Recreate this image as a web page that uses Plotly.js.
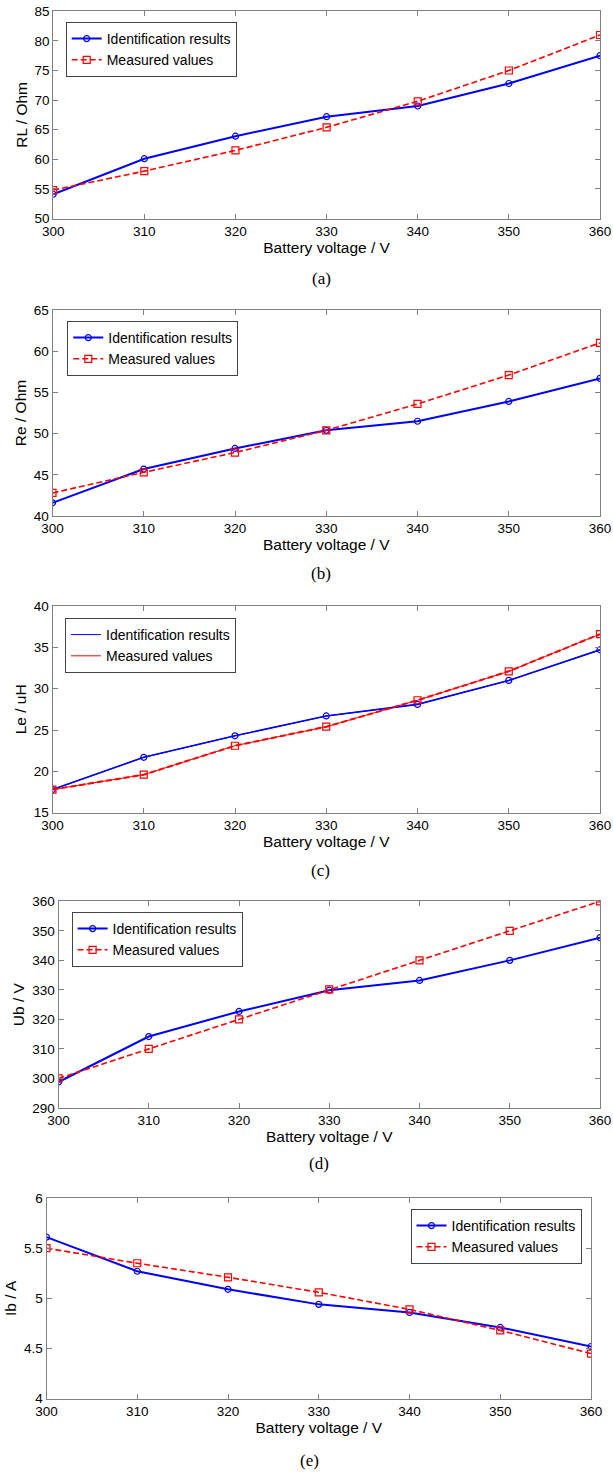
<!DOCTYPE html>
<html>
<head>
<meta charset="utf-8">
<script src="https://cdn.plot.ly/plotly-3.0.1.min.js"></script>
<style>
html,body{margin:0;padding:0;background:#fff;}
#chart{width:613px;height:1474px;}
</style>
</head>
<body>
<div id="chart"></div>
<script>
// ---- data ----
var batteryVoltage = [300, 310, 320, 330, 340, 350, 360];
var xTickVals = [300, 310, 320, 330, 340, 350, 360];

var rlIdent = [54.1, 60.1, 63.9, 67.2, 69.0, 72.8, 77.5];
var rlMeas  = [54.8, 58.0, 61.5, 65.4, 69.8, 75.0, 81.0];

var reIdent = [41.6, 45.7, 48.2, 50.4, 51.5, 53.9, 56.7];
var reMeas  = [42.8, 45.3, 47.7, 50.4, 53.6, 57.1, 61.0];

var leIdent = [17.8, 21.7, 24.3, 26.7, 28.1, 31.0, 34.7];
var leMeas  = [17.8, 19.6, 23.1, 25.4, 28.6, 32.1, 36.6];

var ubIdent = [298.8, 314.2, 322.7, 329.9, 333.2, 340.0, 347.7];
var ubMeas  = [300, 310, 320, 330.2, 340, 350, 360];

var ibIdent = [5.61, 5.27, 5.09, 4.94, 4.86, 4.71, 4.52];
var ibMeas  = [5.50, 5.35, 5.21, 5.06, 4.89, 4.68, 4.45];

var yTitles = ["RL / Ohm", "Re / Ohm", "Le / uH", "Ub / V", "Ib / A"];
var yRanges = [[50, 85], [40, 65], [15, 40], [290, 360], [4, 6]];
var yDticks = [5, 5, 5, 10, 0.5];
var captions = ["(a)", "(b)", "(c)", "(d)", "(e)"];
var xTitle = "Battery voltage / V";
var identName = "Identification results";
var measName = "Measured values";

// ---- layout geometry (pixels) ----
var W = 613, H = 1474;
var boxes = [
  {l: 53.2, r: 600, t: 11.3, b: 218.5},
  {l: 52.5, r: 600, t: 310, b: 516},
  {l: 52.5, r: 600, t: 606, b: 812.7},
  {l: 58.5, r: 600, t: 901.3, b: 1108},
  {l: 46.5, r: 591, t: 1198, b: 1398.7}
];
var legendPos = [[65.7, 22], [67.3, 321], [65, 618], [71.6, 912], [410.5, 1209]];
var captionPos = [[321, 279], [321, 573], [320.6, 870], [318.7, 1163], [309, 1460]];

var BLUE = "#0000ff", RED = "#ff0000", AXC = "#808080";
var FONT = "Liberation Sans, Arial, sans-serif";

var identSeries = [rlIdent, reIdent, leIdent, ubIdent, ibIdent];
var measSeries  = [rlMeas, reMeas, leMeas, ubMeas, ibMeas];

var traces = [];
var layout = {
  width: W, height: H,
  margin: {l: 0, r: 0, t: 0, b: 0},
  paper_bgcolor: "#fff", plot_bgcolor: "#fff",
  showlegend: true,
  font: {family: FONT, size: 13.5, color: "#000"},
  annotations: []
};

for (var i = 0; i < 5; i++) {
  var n = i === 0 ? "" : String(i + 1);
  var xa = "x" + n, ya = "y" + n, lg = "legend" + n;
  var bx = boxes[i];

  if (i === 2) {
    // panel (c): thin plain lines carry the legend, marked lines drawn on top
    traces.push({x: batteryVoltage, y: identSeries[i], xaxis: xa, yaxis: ya, legend: lg,
      name: identName, mode: "lines", line: {color: BLUE, width: 1}});
    traces.push({x: batteryVoltage, y: measSeries[i], xaxis: xa, yaxis: ya, legend: lg,
      name: measName, mode: "lines", line: {color: RED, width: 1}});
    traces.push({x: batteryVoltage, y: identSeries[i], xaxis: xa, yaxis: ya, showlegend: false,
      mode: "lines+markers", line: {color: BLUE, width: 1.6},
      marker: {symbol: "circle-open", size: 6, color: BLUE, line: {width: 1.2, color: BLUE}}});
    traces.push({x: batteryVoltage, y: measSeries[i], xaxis: xa, yaxis: ya, showlegend: false,
      mode: "lines+markers", line: {color: RED, width: 2, dash: "6px,3px"},
      marker: {symbol: "square-open", size: 7, color: RED, line: {width: 1.2, color: RED}}});
  } else {
    traces.push({x: batteryVoltage, y: identSeries[i], xaxis: xa, yaxis: ya, legend: lg,
      name: identName, mode: "lines+markers", line: {color: BLUE, width: 2},
      marker: {symbol: "circle-open", size: 6, color: BLUE, line: {width: 1.2, color: BLUE}}});
    traces.push({x: batteryVoltage, y: measSeries[i], xaxis: xa, yaxis: ya, legend: lg,
      name: measName, mode: "lines+markers", line: {color: RED, width: 1.6, dash: "6px,3px"},
      marker: {symbol: "square-open", size: 7, color: RED, line: {width: 1.2, color: RED}}});
  }

  layout["xaxis" + n] = {
    domain: [bx.l / W, bx.r / W],
    anchor: ya,
    range: [300, 360],
    tickvals: xTickVals,
    ticks: "inside", ticklen: 5, tickcolor: AXC,
    showline: true, linecolor: AXC, linewidth: 1, mirror: "ticks",
    showgrid: false, zeroline: false, fixedrange: true,
    tickfont: {family: FONT, size: 13.5, color: "#000"},
    title: {text: xTitle, font: {family: FONT, size: 15.5, color: "#000"}, standoff: 3},
    automargin: false
  };
  layout["yaxis" + n] = {
    domain: [1 - bx.b / H, 1 - bx.t / H],
    anchor: xa,
    range: yRanges[i],
    dtick: yDticks[i], tick0: yRanges[i][0],
    ticks: "inside", ticklen: 5, tickcolor: AXC,
    showline: true, linecolor: AXC, linewidth: 1, mirror: "ticks",
    showgrid: false, zeroline: false, fixedrange: true,
    tickfont: {family: FONT, size: 13.5, color: "#000"},
    title: {text: yTitles[i], font: {family: FONT, size: 15.5, color: "#000"}, standoff: 3},
    automargin: false
  };
  layout[lg] = {
    x: legendPos[i][0] / W, y: 1 - legendPos[i][1] / H,
    xanchor: "left", yanchor: "top",
    bgcolor: "#fff", bordercolor: "#444", borderwidth: 1,
    font: {family: FONT, size: 14, color: "#000"},
    itemwidth: 30, tracegroupgap: 0
  };
  layout.annotations.push({
    xref: "paper", yref: "paper",
    x: captionPos[i][0] / W, y: 1 - captionPos[i][1] / H,
    xanchor: "center", yanchor: "middle",
    text: captions[i], showarrow: false,
    font: {family: "Liberation Serif, Times New Roman, serif", size: 17, color: "#000"}
  });
}

Plotly.newPlot("chart", traces, layout, {staticPlot: true, displayModeBar: false});
</script>
</body>
</html>
